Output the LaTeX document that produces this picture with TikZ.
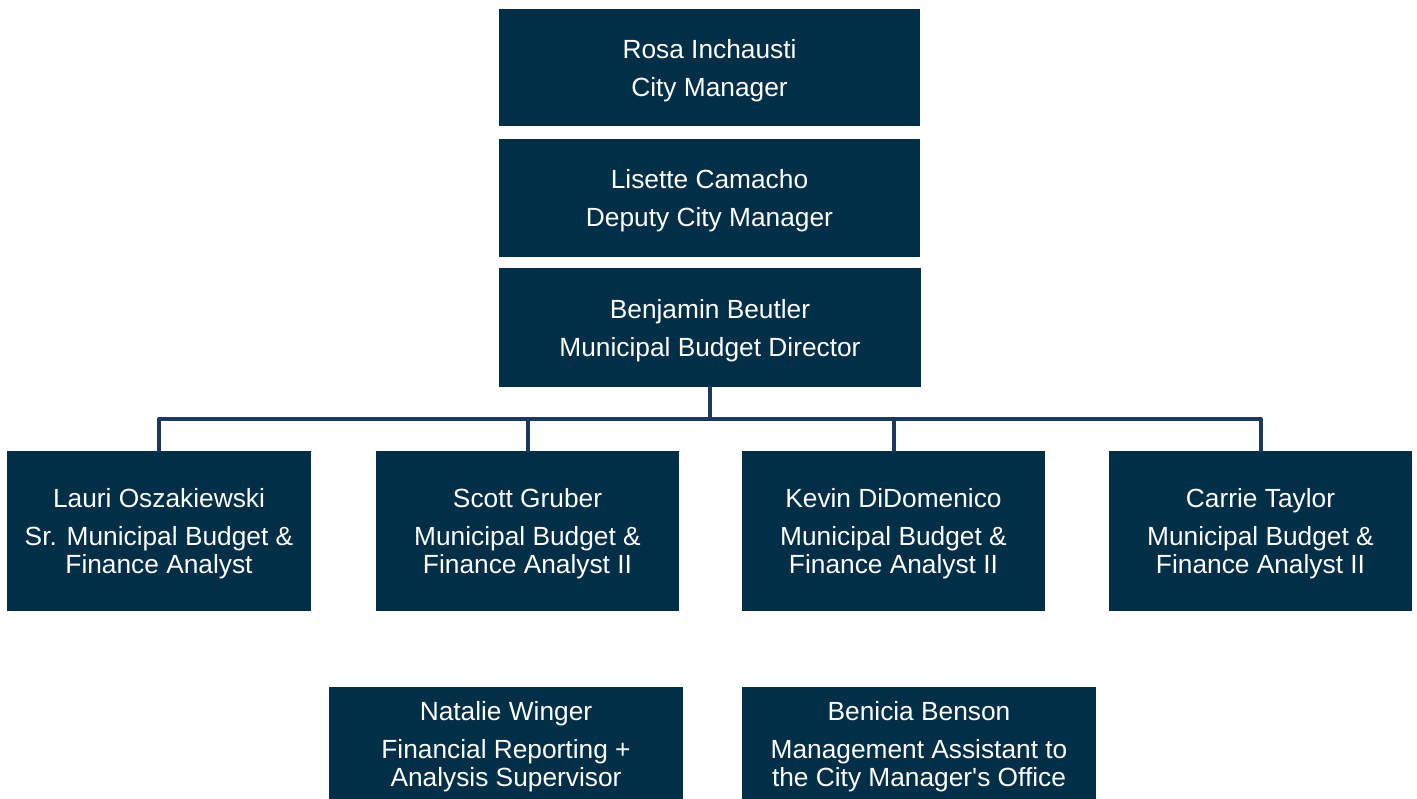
\documentclass[tikz,border=0pt]{standalone}
\usepackage{fontspec}
\setmainfont{Liberation Sans}[Ligatures=TeXOff]
\definecolor{boxfill}{HTML}{022F48}
\definecolor{linecol}{HTML}{1C3760}
\newcommand\mylift{\rule{0pt}{25pt}}
\begin{document}
\begin{tikzpicture}[x=1pt,y=-1pt,
  box/.style={fill=boxfill, draw=none, text=white, align=center, inner sep=0pt,
    font=\fontsize{26.3}{28}\selectfont},
  conn/.style={draw=linecol, line width=4pt, line cap=round, line join=round}]
\useasboundingbox (0,0) rectangle (1417,799);
\fill[white] (0,0) rectangle (1417,799);
\node[box, minimum width=421pt, minimum height=117pt] (rosa) at (709.5,67.5) {\mylift Rosa Inchausti\\[10pt]City Manager};
\node[box, minimum width=421pt, minimum height=118pt] (lisette) at (709.5,198) {\mylift Lisette Camacho\\[10pt]Deputy City Manager};
\node[box, minimum width=422pt, minimum height=119pt] (ben) at (710,327.5) {\mylift Benjamin Beutler\\[10pt]Municipal Budget Director};
\node[box, minimum width=304pt, minimum height=160pt] (lauri) at (159,531) {\mylift Lauri Oszakiewski\\[10pt]Sr. Municipal Budget \&\\Finance Analyst};
\node[box, minimum width=303pt, minimum height=160pt] (scott) at (527.5,531) {\mylift Scott Gruber\\[10pt]Municipal Budget \&\\Finance Analyst II};
\node[box, minimum width=303pt, minimum height=160pt] (kevin) at (893.5,531) {\mylift Kevin DiDomenico\\[10pt]Municipal Budget \&\\Finance Analyst II};
\node[box, minimum width=303pt, minimum height=160pt] (carrie) at (1260.5,531) {\mylift Carrie Taylor\\[10pt]Municipal Budget \&\\Finance Analyst II};
\node[box, minimum width=354pt, minimum height=112pt] (natalie) at (506,743) {\rule{0pt}{27pt}Natalie Winger\\[10pt]Financial Reporting +\\Analysis Supervisor};
\node[box, minimum width=354pt, minimum height=112pt] (benicia) at (919,743) {\rule{0pt}{27pt}Benicia Benson\\[10pt]Management Assistant to\\the City Manager's Office};
\coordinate (hub) at (710,419);
\draw[conn] (ben.south) -- (hub);
\draw[conn] (lauri.north) -- (lauri.north |- hub) -- (carrie.north |- hub) -- (carrie.north);
\draw[conn] (scott.north) -- (scott.north |- hub);
\draw[conn] (kevin.north) -- (kevin.north |- hub);
\end{tikzpicture}
\end{document}
